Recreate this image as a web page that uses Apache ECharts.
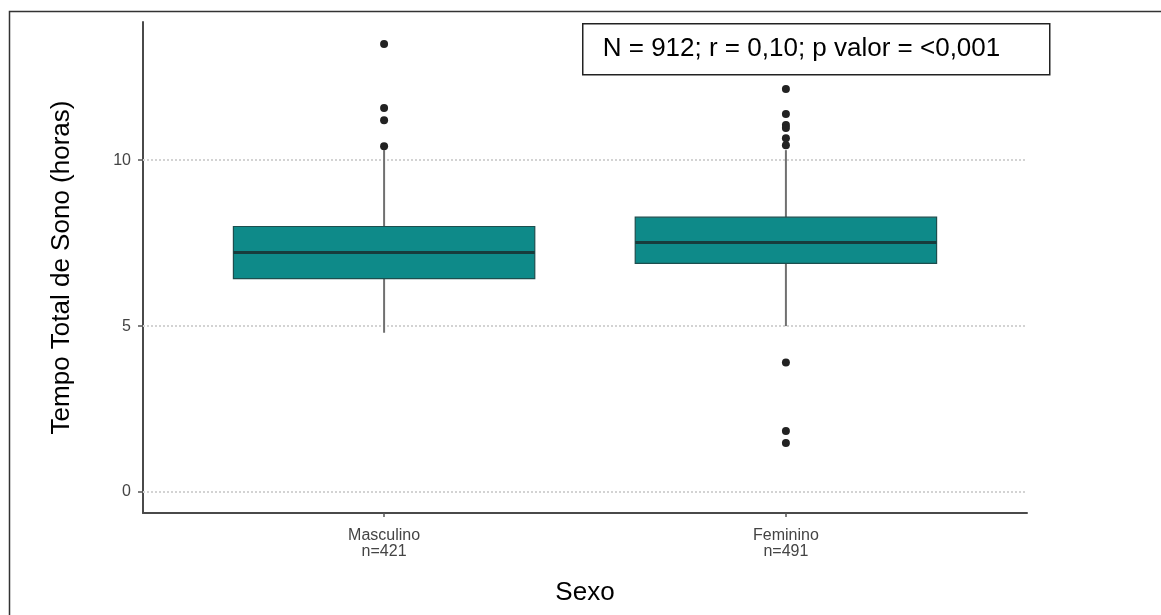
<!DOCTYPE html>
<html>
<head>
<meta charset="utf-8">
<script src="https://cdn.jsdelivr.net/npm/echarts@6/dist/echarts.min.js"></script>
<style>
  html, body { margin: 0; padding: 0; background: #fff; }
  #chart { width: 1161px; height: 615px; }
</style>
</head>
<body>
<div id="chart"></div>
<script>
// Sleep time by sex: box summaries and outliers (hours)
const categories = ['Masculino', 'Feminino'];
const groupSizes = [421, 491];
const whiskerLow = [4.8, 5.0];
const quartile1 = [6.43, 6.89];
const medians = [7.22, 7.52];
const quartile3 = [8.0, 8.28];
const whiskerHigh = [10.3, 10.3];
const outliersMasculino = [13.5, 11.57, 11.2, 10.42];
const outliersFeminino = [12.14, 11.39, 11.06, 10.97, 10.66, 10.45, 3.9, 1.84, 1.48];
const yTicks = [0, 5, 10];
const statsText = 'N = 912; r = 0,10; p valor = <0,001';

const boxData = categories.map((c, i) => [i + 1, whiskerLow[i], quartile1[i], medians[i], quartile3[i], whiskerHigh[i]]);
const outlierData = []
  .concat(outliersMasculino.map(v => [1, v]))
  .concat(outliersFeminino.map(v => [2, v]));

const BOX_HALF = 0.375;
const FONT = 'Liberation Sans, Arial, sans-serif';

function renderBox(params, api) {
  const x = api.value(0);
  const lo = api.coord([x, api.value(1)]);
  const q1 = api.coord([x, api.value(2)]);
  const md = api.coord([x, api.value(3)]);
  const q3 = api.coord([x, api.value(4)]);
  const hi = api.coord([x, api.value(5)]);
  const left = api.coord([x - BOX_HALF, 0])[0];
  const right = api.coord([x + BOX_HALF, 0])[0];
  const whisker = { stroke: '#707070', lineWidth: 2 };
  return {
    type: 'group',
    children: [
      { type: 'line', shape: { x1: lo[0], y1: lo[1], x2: q1[0], y2: q1[1] }, style: whisker },
      { type: 'line', shape: { x1: q3[0], y1: q3[1], x2: hi[0], y2: hi[1] }, style: whisker },
      { type: 'rect', shape: { x: left, y: q3[1], width: right - left, height: q1[1] - q3[1] },
        style: { fill: '#0e8a89', stroke: '#1d4e4e', lineWidth: 1.2 } },
      { type: 'line', shape: { x1: left, y1: md[1], x2: right, y2: md[1] },
        style: { stroke: '#173c3c', lineWidth: 3 } }
    ]
  };
}

const chart = echarts.init(document.getElementById('chart'));
chart.setOption({
  animation: false,
  backgroundColor: '#ffffff',
  grid: { left: 143, right: 134, top: 22, bottom: 102 },
  xAxis: {
    type: 'value',
    min: 0.4,
    max: 2.6,
    name: 'Sexo',
    nameLocation: 'middle',
    nameGap: 67,
    nameTextStyle: { fontSize: 26, color: '#000', fontFamily: FONT },
    axisLine: { show: true, onZero: false, lineStyle: { color: '#4a4a4a', width: 2 } },
    axisTick: { show: true, length: 4, customValues: [1, 2], lineStyle: { color: '#555', width: 1.5 } },
    axisLabel: {
      customValues: [1, 2],
      formatter: v => {
        const i = Math.round(v) - 1;
        return categories[i] + '\nn=' + groupSizes[i];
      },
      color: '#444',
      fontSize: 16,
      lineHeight: 16,
      margin: 15,
      fontFamily: FONT
    },
    splitLine: { show: false }
  },
  yAxis: {
    type: 'value',
    min: -0.63,
    max: 14.16,
    name: 'Tempo Total de Sono (horas)',
    nameLocation: 'middle',
    nameGap: 68,
    nameTextStyle: { fontSize: 26, color: '#000', fontFamily: FONT },
    axisLine: { show: true, onZero: false, lineStyle: { color: '#4a4a4a', width: 2 } },
    axisTick: { show: true, length: 5, customValues: yTicks, lineStyle: { color: '#555', width: 1.5 } },
    axisLabel: {
      customValues: yTicks,
      color: '#444',
      fontSize: 16,
      margin: 12,
      fontFamily: FONT
    },
    splitLine: { show: false }
  },
  series: [
    {
      type: 'custom',
      renderItem: renderBox,
      data: boxData,
      encode: { x: 0, y: [1, 2, 3, 4, 5] },
      z: 3,
      markLine: {
        silent: true,
        symbol: 'none',
        label: { show: false },
        lineStyle: { color: '#d3d3d3', type: [2, 2], width: 2 },
        data: yTicks.map(v => ({ yAxis: v })),
        z: 1
      }
    },
    {
      type: 'scatter',
      data: outlierData,
      symbol: 'circle',
      symbolSize: 8,
      itemStyle: { color: '#222', opacity: 1 },
      z: 4
    }
  ],
  graphic: [
    {
      type: 'rect',
      left: 7, top: 9,
      shape: { width: 1200, height: 700 },
      style: { fill: 'none', stroke: '#333', lineWidth: 1.5 },
      z: 100
    },
    {
      type: 'group',
      left: 582, top: 23,
      z: 100,
      children: [
        { type: 'rect', shape: { x: 0, y: 0, width: 467, height: 51 },
          style: { fill: '#fff', stroke: '#222', lineWidth: 1.5 } },
        { type: 'text', x: 20, y: 25.5,
          style: { text: statsText, fill: '#000', fontSize: 26, verticalAlign: 'middle',
                   fontFamily: FONT } }
      ]
    }
  ]
});
</script>
</body>
</html>
